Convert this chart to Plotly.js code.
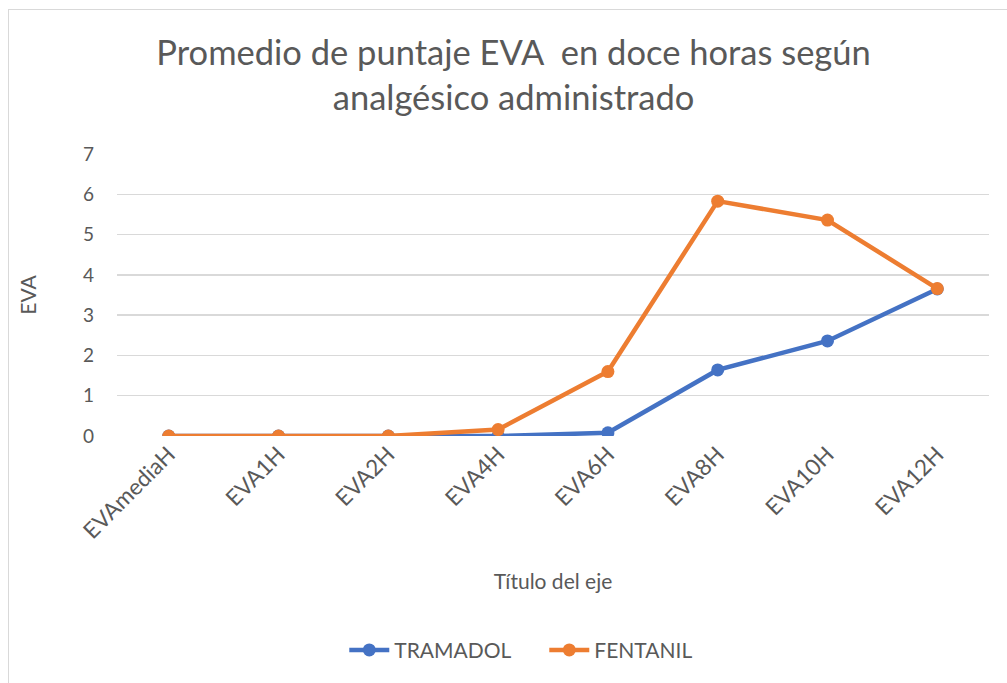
<!DOCTYPE html>
<html><head><meta charset="utf-8">
<script src="https://cdn.plot.ly/plotly-3.0.1.min.js"></script>
<style>
html,body{margin:0;padding:0;background:#fff;overflow:hidden;}
#frame{position:absolute;left:8px;top:9px;width:1100px;height:800px;border-left:1px solid #d9d9d9;border-top:1px solid #d9d9d9;}
#chart{position:absolute;left:0;top:0;width:1007px;height:683px;}
</style></head>
<body>
<div id="frame"></div>
<div id="chart"></div>
<script>
const categories = ["EVAmediaH","EVA1H","EVA2H","EVA4H","EVA6H","EVA8H","EVA10H","EVA12H"];
const tramadol = [0, 0, 0, 0, 0.08, 1.64, 2.36, 3.65];
const fentanil = [0, 0, 0, 0.16, 1.6, 5.83, 5.36, 3.66];
const yTicks = [0,1,2,3,4,5,6,7];

const font = "Lato, 'Open Sans', sans-serif";
const grey = "#595959";

const traces = [
  {x: categories, y: tramadol, name: "TRAMADOL", type: "scatter", mode: "lines+markers",
   line: {color: "#4472C4", width: 4.5}, marker: {color: "#4472C4", size: 13}},
  {x: categories, y: fentanil, name: "FENTANIL", type: "scatter", mode: "lines+markers",
   line: {color: "#ED7D31", width: 4.5}, marker: {color: "#ED7D31", size: 13}}
];

const layout = {
  width: 1007, height: 683,
  paper_bgcolor: "rgba(0,0,0,0)", plot_bgcolor: "rgba(0,0,0,0)",
  margin: {l: 117, r: 18, t: 154, b: 247},
  font: {family: font, color: grey},
  title: {text: "Promedio de puntaje EVA  en doce horas según<br>analgésico administrado",
          font: {family: font, size: 34.5, color: grey}, x: 0.51, xanchor: "center", y: 0.905, yanchor: "top"},
  showlegend: true,
  legend: {orientation: "h", x: 0.49, xanchor: "center", y: -0.76, yanchor: "middle",
           font: {family: font, size: 21, color: grey}, tracegroupgap: 0,
           entrywidth: 145, entrywidthmode: "pixels", itemwidth: 40},
  xaxis: {
    type: "category", tickangle: -45, tickfont: {family: font, size: 22.5, color: grey},
    showgrid: false, zeroline: false, showline: false, ticks: "", ticklen: 0,
    title: {text: "Título del eje", font: {family: font, size: 21, color: grey}, standoff: 31}
  },
  yaxis: {
    range: [0, 7], tickvals: yTicks, ticktext: yTicks.map(String),
    tickfont: {family: font, size: 19, color: grey},
    showgrid: true, gridcolor: "#d9d9d9", gridwidth: 1.3, zeroline: false, showline: false,
    ticks: "", ticklabelstandoff: 22,
    title: {text: "EVA", font: {family: font, size: 21, color: grey}, standoff: 40}
  }
};

Plotly.newPlot("chart", traces, layout, {displayModeBar: false, staticPlot: true});
</script>
</body></html>
